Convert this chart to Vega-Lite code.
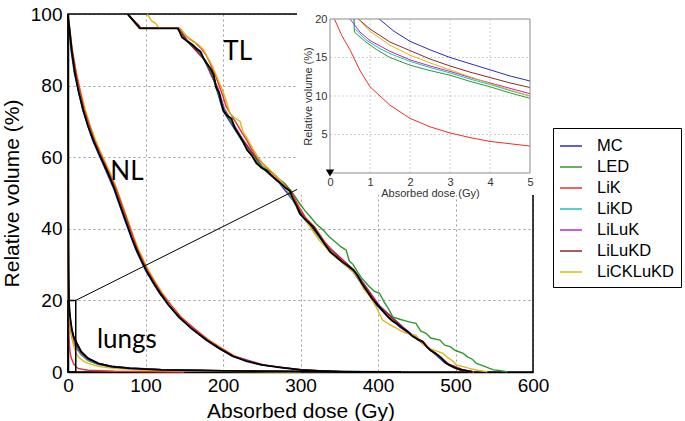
{
"$schema":"https://vega.github.io/schema/vega-lite/v6.json",
"width":465,"height":358,
"autosize":{"type":"none"},
"padding":{"left":68,"top":14,"right":152,"bottom":49},
"background":"white",
"config":{"view":{"stroke":null},"font":"Liberation Sans",
"axis":{"grid":true,"gridColor":"#9a9a9a","gridDash":[2,3],"gridWidth":1,"ticks":false,"domainColor":"black","domainWidth":1.5,"labelFontSize":19,"labelColor":"black","labelFlush":false,"titleFontSize":21,"titleFontWeight":"normal","titleColor":"black"}},
"datasets":{
"ann":[{"t":"TL","d":219,"v":89.4},{"t":"NL","d":76,"v":55.9},{"t":"lungs","d":76,"v":8.9}],
"dvh":[
{"o":"TL","s":"ref","d":77,"v":100},{"o":"TL","s":"ref","d":81,"v":99},{"o":"TL","s":"ref","d":85,"v":98},{"o":"TL","s":"ref","d":89,"v":97},{"o":"TL","s":"ref","d":93,"v":96},{"o":"TL","s":"ref","d":142,"v":96},{"o":"TL","s":"ref","d":147,"v":93.5},{"o":"TL","s":"ref","d":153,"v":92.5},{"o":"TL","s":"ref","d":160,"v":91.5},{"o":"TL","s":"ref","d":166,"v":90.3},{"o":"TL","s":"ref","d":171,"v":89.5},{"o":"TL","s":"ref","d":175,"v":87.5},{"o":"TL","s":"ref","d":179,"v":86.2},{"o":"TL","s":"ref","d":184,"v":84.8},{"o":"TL","s":"ref","d":188,"v":83},{"o":"TL","s":"ref","d":191,"v":79.5},{"o":"TL","s":"ref","d":195,"v":78},{"o":"TL","s":"ref","d":198,"v":75},{"o":"TL","s":"ref","d":201,"v":72.8},{"o":"TL","s":"ref","d":206,"v":71.5},{"o":"TL","s":"ref","d":211,"v":70.8},{"o":"TL","s":"ref","d":215,"v":68.2},{"o":"TL","s":"ref","d":219,"v":66.8},{"o":"TL","s":"ref","d":223,"v":65.4},{"o":"TL","s":"ref","d":227,"v":63.8},{"o":"TL","s":"ref","d":231,"v":62},{"o":"TL","s":"ref","d":237,"v":60.5},{"o":"TL","s":"ref","d":243,"v":58.3},{"o":"TL","s":"ref","d":250,"v":57},{"o":"TL","s":"ref","d":256,"v":56.3},{"o":"TL","s":"ref","d":262,"v":55},{"o":"TL","s":"ref","d":269,"v":53.6},{"o":"TL","s":"ref","d":276,"v":52.4},{"o":"TL","s":"ref","d":281,"v":51.4},{"o":"TL","s":"ref","d":286,"v":50.7},{"o":"TL","s":"ref","d":290,"v":48.5},{"o":"TL","s":"ref","d":295,"v":46.4},{"o":"TL","s":"ref","d":299,"v":44.3},{"o":"TL","s":"ref","d":306,"v":42.6},{"o":"TL","s":"ref","d":316,"v":40.6},{"o":"TL","s":"ref","d":323,"v":38.4},{"o":"TL","s":"ref","d":331,"v":35.8},{"o":"TL","s":"ref","d":338,"v":33.6},{"o":"TL","s":"ref","d":346,"v":32.2},{"o":"TL","s":"ref","d":353,"v":30.9},{"o":"TL","s":"ref","d":361,"v":29.7},{"o":"TL","s":"ref","d":368,"v":28.5},{"o":"TL","s":"ref","d":374,"v":26.8},{"o":"TL","s":"ref","d":379,"v":24.8},{"o":"TL","s":"ref","d":385,"v":22.9},{"o":"TL","s":"ref","d":392,"v":20.6},{"o":"TL","s":"ref","d":397,"v":19.4},{"o":"TL","s":"ref","d":402,"v":18.2},{"o":"TL","s":"ref","d":408,"v":16.6},{"o":"TL","s":"ref","d":413,"v":15.3},{"o":"TL","s":"ref","d":419,"v":14.2},{"o":"TL","s":"ref","d":425,"v":13.4},{"o":"TL","s":"ref","d":431,"v":12.4},{"o":"TL","s":"ref","d":438,"v":11.3},{"o":"TL","s":"ref","d":445,"v":9.9},{"o":"TL","s":"ref","d":452,"v":9.1},{"o":"TL","s":"ref","d":458,"v":8.4},{"o":"TL","s":"ref","d":463,"v":7},{"o":"TL","s":"ref","d":468,"v":6},{"o":"TL","s":"ref","d":475,"v":5.1},{"o":"TL","s":"ref","d":482,"v":3.9},{"o":"TL","s":"ref","d":488,"v":2.4},{"o":"TL","s":"ref","d":494,"v":1.7},{"o":"TL","s":"ref","d":501,"v":1},{"o":"TL","s":"ref","d":508,"v":0.6},{"o":"TL","s":"ref","d":515,"v":0.3},{"o":"TL","s":"ref","d":522,"v":0},
{"o":"TL","s":"MC","d":77,"v":100},{"o":"TL","s":"MC","d":92,"v":96},{"o":"TL","s":"MC","d":141,"v":96},{"o":"TL","s":"MC","d":152,"v":92.8},{"o":"TL","s":"MC","d":172,"v":89},{"o":"TL","s":"MC","d":189,"v":81},{"o":"TL","s":"MC","d":200,"v":73},{"o":"TL","s":"MC","d":222,"v":65.5},{"o":"TL","s":"MC","d":245,"v":58},{"o":"TL","s":"MC","d":272,"v":53},{"o":"TL","s":"MC","d":290,"v":48},{"o":"TL","s":"MC","d":312,"v":41},{"o":"TL","s":"MC","d":344,"v":32.4},{"o":"TL","s":"MC","d":368,"v":28},{"o":"TL","s":"MC","d":398,"v":18.6},{"o":"TL","s":"MC","d":428,"v":12.6},{"o":"TL","s":"MC","d":458,"v":8},{"o":"TL","s":"MC","d":486,"v":2.6},{"o":"TL","s":"MC","d":505,"v":0.6},{"o":"TL","s":"MC","d":519,"v":0},
{"o":"TL","s":"LiKD","d":77,"v":100},{"o":"TL","s":"LiKD","d":93,"v":96},{"o":"TL","s":"LiKD","d":142,"v":96},{"o":"TL","s":"LiKD","d":153,"v":92.6},{"o":"TL","s":"LiKD","d":176,"v":87.5},{"o":"TL","s":"LiKD","d":193,"v":79},{"o":"TL","s":"LiKD","d":201,"v":73.2},{"o":"TL","s":"LiKD","d":224,"v":65.2},{"o":"TL","s":"LiKD","d":250,"v":57.2},{"o":"TL","s":"LiKD","d":282,"v":51.2},{"o":"TL","s":"LiKD","d":300,"v":44},{"o":"TL","s":"LiKD","d":334,"v":35},{"o":"TL","s":"LiKD","d":368,"v":28.6},{"o":"TL","s":"LiKD","d":400,"v":18.6},{"o":"TL","s":"LiKD","d":432,"v":12.3},{"o":"TL","s":"LiKD","d":462,"v":7.3},{"o":"TL","s":"LiKD","d":490,"v":2.2},{"o":"TL","s":"LiKD","d":508,"v":0.6},{"o":"TL","s":"LiKD","d":523,"v":0},
{"o":"TL","s":"LiLuK","d":77,"v":100},{"o":"TL","s":"LiLuK","d":94,"v":96},{"o":"TL","s":"LiLuK","d":143,"v":96},{"o":"TL","s":"LiLuK","d":154,"v":92.6},{"o":"TL","s":"LiLuK","d":178,"v":86.8},{"o":"TL","s":"LiLuK","d":194,"v":79},{"o":"TL","s":"LiLuK","d":202,"v":73.4},{"o":"TL","s":"LiLuK","d":226,"v":64.8},{"o":"TL","s":"LiLuK","d":252,"v":57},{"o":"TL","s":"LiLuK","d":284,"v":51},{"o":"TL","s":"LiLuK","d":302,"v":44},{"o":"TL","s":"LiLuK","d":336,"v":35},{"o":"TL","s":"LiLuK","d":370,"v":28.2},{"o":"TL","s":"LiLuK","d":402,"v":18.5},{"o":"TL","s":"LiLuK","d":434,"v":12.2},{"o":"TL","s":"LiLuK","d":464,"v":7},{"o":"TL","s":"LiLuK","d":492,"v":2.1},{"o":"TL","s":"LiLuK","d":510,"v":0.6},{"o":"TL","s":"LiLuK","d":524,"v":0},
{"o":"TL","s":"LiLuKD","d":77,"v":100},{"o":"TL","s":"LiLuKD","d":93,"v":96},{"o":"TL","s":"LiLuKD","d":142,"v":96},{"o":"TL","s":"LiLuKD","d":153,"v":92.6},{"o":"TL","s":"LiLuKD","d":177,"v":87},{"o":"TL","s":"LiLuKD","d":193,"v":79.2},{"o":"TL","s":"LiLuKD","d":201,"v":73.2},{"o":"TL","s":"LiLuKD","d":225,"v":65},{"o":"TL","s":"LiLuKD","d":251,"v":57.1},{"o":"TL","s":"LiLuKD","d":283,"v":51.1},{"o":"TL","s":"LiLuKD","d":301,"v":44.1},{"o":"TL","s":"LiLuKD","d":335,"v":35.1},{"o":"TL","s":"LiLuKD","d":369,"v":28.4},{"o":"TL","s":"LiLuKD","d":401,"v":18.4},{"o":"TL","s":"LiLuKD","d":433,"v":12.2},{"o":"TL","s":"LiLuKD","d":463,"v":7.1},{"o":"TL","s":"LiLuKD","d":491,"v":2.2},{"o":"TL","s":"LiLuKD","d":509,"v":0.6},{"o":"TL","s":"LiLuKD","d":523,"v":0},
{"o":"TL","s":"LED","d":77,"v":100},{"o":"TL","s":"LED","d":93,"v":96},{"o":"TL","s":"LED","d":142,"v":96},{"o":"TL","s":"LED","d":149,"v":93.2},{"o":"TL","s":"LED","d":160,"v":91.6},{"o":"TL","s":"LED","d":170,"v":89.6},{"o":"TL","s":"LED","d":178,"v":86.5},{"o":"TL","s":"LED","d":187,"v":83.5},{"o":"TL","s":"LED","d":192,"v":79.2},{"o":"TL","s":"LED","d":199,"v":74.5},{"o":"TL","s":"LED","d":206,"v":71.5},{"o":"TL","s":"LED","d":214,"v":69},{"o":"TL","s":"LED","d":222,"v":65.5},{"o":"TL","s":"LED","d":232,"v":62},{"o":"TL","s":"LED","d":240,"v":60},{"o":"TL","s":"LED","d":248,"v":57.8},{"o":"TL","s":"LED","d":256,"v":56.6},{"o":"TL","s":"LED","d":264,"v":55.6},{"o":"TL","s":"LED","d":272,"v":54},{"o":"TL","s":"LED","d":280,"v":52.6},{"o":"TL","s":"LED","d":288,"v":50.6},{"o":"TL","s":"LED","d":293,"v":49},{"o":"TL","s":"LED","d":299,"v":47},{"o":"TL","s":"LED","d":306,"v":45},{"o":"TL","s":"LED","d":313,"v":43.3},{"o":"TL","s":"LED","d":320,"v":41.4},{"o":"TL","s":"LED","d":329,"v":39.7},{"o":"TL","s":"LED","d":337,"v":37.8},{"o":"TL","s":"LED","d":345,"v":36.3},{"o":"TL","s":"LED","d":352,"v":35},{"o":"TL","s":"LED","d":359,"v":34},{"o":"TL","s":"LED","d":363,"v":31},{"o":"TL","s":"LED","d":368,"v":30},{"o":"TL","s":"LED","d":372,"v":28.5},{"o":"TL","s":"LED","d":378,"v":26.5},{"o":"TL","s":"LED","d":384,"v":25},{"o":"TL","s":"LED","d":389,"v":23.8},{"o":"TL","s":"LED","d":395,"v":22.6},{"o":"TL","s":"LED","d":402,"v":22},{"o":"TL","s":"LED","d":408,"v":19.5},{"o":"TL","s":"LED","d":414,"v":17.5},{"o":"TL","s":"LED","d":419,"v":15.4},{"o":"TL","s":"LED","d":427,"v":14.8},{"o":"TL","s":"LED","d":440,"v":14},{"o":"TL","s":"LED","d":449,"v":13.6},{"o":"TL","s":"LED","d":455,"v":11.5},{"o":"TL","s":"LED","d":462,"v":10.8},{"o":"TL","s":"LED","d":468,"v":9.5},{"o":"TL","s":"LED","d":480,"v":8.9},{"o":"TL","s":"LED","d":486,"v":7.5},{"o":"TL","s":"LED","d":493,"v":7.1},{"o":"TL","s":"LED","d":500,"v":6},{"o":"TL","s":"LED","d":510,"v":5.2},{"o":"TL","s":"LED","d":515,"v":4.3},{"o":"TL","s":"LED","d":522,"v":3.5},{"o":"TL","s":"LED","d":527,"v":2.4},{"o":"TL","s":"LED","d":535,"v":1.8},{"o":"TL","s":"LED","d":544,"v":1},{"o":"TL","s":"LED","d":549,"v":0.6},{"o":"TL","s":"LED","d":556,"v":0.4},{"o":"TL","s":"LED","d":566,"v":0.1},{"o":"TL","s":"LED","d":567,"v":0},
{"o":"TL","s":"LiK","d":77,"v":100},{"o":"TL","s":"LiK","d":81,"v":99},{"o":"TL","s":"LiK","d":86,"v":98},{"o":"TL","s":"LiK","d":91,"v":97},{"o":"TL","s":"LiK","d":94,"v":96},{"o":"TL","s":"LiK","d":143,"v":96},{"o":"TL","s":"LiK","d":149,"v":94.5},{"o":"TL","s":"LiK","d":156,"v":93.2},{"o":"TL","s":"LiK","d":164,"v":92},{"o":"TL","s":"LiK","d":172,"v":90.4},{"o":"TL","s":"LiK","d":178,"v":88.6},{"o":"TL","s":"LiK","d":184,"v":86},{"o":"TL","s":"LiK","d":190,"v":83},{"o":"TL","s":"LiK","d":195,"v":80},{"o":"TL","s":"LiK","d":200,"v":77},{"o":"TL","s":"LiK","d":204,"v":74.2},{"o":"TL","s":"LiK","d":210,"v":72},{"o":"TL","s":"LiK","d":217,"v":69.6},{"o":"TL","s":"LiK","d":224,"v":67},{"o":"TL","s":"LiK","d":230,"v":65},{"o":"TL","s":"LiK","d":236,"v":62.6},{"o":"TL","s":"LiK","d":244,"v":60},{"o":"TL","s":"LiK","d":252,"v":58},{"o":"TL","s":"LiK","d":260,"v":56.3},{"o":"TL","s":"LiK","d":270,"v":54.2},{"o":"TL","s":"LiK","d":280,"v":52.2},{"o":"TL","s":"LiK","d":289,"v":50},{"o":"TL","s":"LiK","d":294,"v":47.8},{"o":"TL","s":"LiK","d":300,"v":45.4},{"o":"TL","s":"LiK","d":307,"v":43},{"o":"TL","s":"LiK","d":318,"v":40.6},{"o":"TL","s":"LiK","d":331,"v":36.4},{"o":"TL","s":"LiK","d":346,"v":32.6},{"o":"TL","s":"LiK","d":360,"v":30},{"o":"TL","s":"LiK","d":373,"v":27},{"o":"TL","s":"LiK","d":385,"v":23.2},{"o":"TL","s":"LiK","d":396,"v":19.8},{"o":"TL","s":"LiK","d":407,"v":17},{"o":"TL","s":"LiK","d":418,"v":14.5},{"o":"TL","s":"LiK","d":430,"v":12.8},{"o":"TL","s":"LiK","d":445,"v":10},{"o":"TL","s":"LiK","d":458,"v":8.6},{"o":"TL","s":"LiK","d":467,"v":6.3},{"o":"TL","s":"LiK","d":481,"v":4.1},{"o":"TL","s":"LiK","d":488,"v":2.6},{"o":"TL","s":"LiK","d":497,"v":1.3},{"o":"TL","s":"LiK","d":507,"v":0.7},{"o":"TL","s":"LiK","d":518,"v":0.2},{"o":"TL","s":"LiK","d":524,"v":0},
{"o":"TL","s":"LiCKLuKD","d":102,"v":100},{"o":"TL","s":"LiCKLuKD","d":105,"v":99},{"o":"TL","s":"LiCKLuKD","d":108,"v":98},{"o":"TL","s":"LiCKLuKD","d":113,"v":97.4},{"o":"TL","s":"LiCKLuKD","d":118,"v":96},{"o":"TL","s":"LiCKLuKD","d":145,"v":96},{"o":"TL","s":"LiCKLuKD","d":152,"v":94},{"o":"TL","s":"LiCKLuKD","d":160,"v":92.6},{"o":"TL","s":"LiCKLuKD","d":168,"v":91.5},{"o":"TL","s":"LiCKLuKD","d":175,"v":90},{"o":"TL","s":"LiCKLuKD","d":180,"v":88},{"o":"TL","s":"LiCKLuKD","d":186,"v":85.6},{"o":"TL","s":"LiCKLuKD","d":193,"v":82},{"o":"TL","s":"LiCKLuKD","d":199,"v":79},{"o":"TL","s":"LiCKLuKD","d":205,"v":75.2},{"o":"TL","s":"LiCKLuKD","d":209,"v":72.2},{"o":"TL","s":"LiCKLuKD","d":215,"v":71},{"o":"TL","s":"LiCKLuKD","d":222,"v":70},{"o":"TL","s":"LiCKLuKD","d":226,"v":67},{"o":"TL","s":"LiCKLuKD","d":232,"v":65},{"o":"TL","s":"LiCKLuKD","d":238,"v":62.5},{"o":"TL","s":"LiCKLuKD","d":245,"v":60},{"o":"TL","s":"LiCKLuKD","d":252,"v":58.2},{"o":"TL","s":"LiCKLuKD","d":258,"v":57},{"o":"TL","s":"LiCKLuKD","d":265,"v":55.5},{"o":"TL","s":"LiCKLuKD","d":272,"v":54},{"o":"TL","s":"LiCKLuKD","d":280,"v":52},{"o":"TL","s":"LiCKLuKD","d":287,"v":49.6},{"o":"TL","s":"LiCKLuKD","d":292,"v":47.5},{"o":"TL","s":"LiCKLuKD","d":297,"v":45},{"o":"TL","s":"LiCKLuKD","d":305,"v":42.8},{"o":"TL","s":"LiCKLuKD","d":314,"v":40},{"o":"TL","s":"LiCKLuKD","d":324,"v":36.9},{"o":"TL","s":"LiCKLuKD","d":332,"v":35},{"o":"TL","s":"LiCKLuKD","d":340,"v":33},{"o":"TL","s":"LiCKLuKD","d":350,"v":31.4},{"o":"TL","s":"LiCKLuKD","d":360,"v":29.5},{"o":"TL","s":"LiCKLuKD","d":368,"v":28},{"o":"TL","s":"LiCKLuKD","d":375,"v":26},{"o":"TL","s":"LiCKLuKD","d":382,"v":23},{"o":"TL","s":"LiCKLuKD","d":390,"v":21},{"o":"TL","s":"LiCKLuKD","d":398,"v":18},{"o":"TL","s":"LiCKLuKD","d":406,"v":14.5},{"o":"TL","s":"LiCKLuKD","d":415,"v":13.2},{"o":"TL","s":"LiCKLuKD","d":422,"v":12.5},{"o":"TL","s":"LiCKLuKD","d":428,"v":11.7},{"o":"TL","s":"LiCKLuKD","d":437,"v":10.8},{"o":"TL","s":"LiCKLuKD","d":449,"v":10.3},{"o":"TL","s":"LiCKLuKD","d":455,"v":8.5},{"o":"TL","s":"LiCKLuKD","d":462,"v":7.1},{"o":"TL","s":"LiCKLuKD","d":470,"v":6.3},{"o":"TL","s":"LiCKLuKD","d":484,"v":5.2},{"o":"TL","s":"LiCKLuKD","d":490,"v":4},{"o":"TL","s":"LiCKLuKD","d":497,"v":3},{"o":"TL","s":"LiCKLuKD","d":501,"v":2},{"o":"TL","s":"LiCKLuKD","d":510,"v":1.5},{"o":"TL","s":"LiCKLuKD","d":518,"v":1},{"o":"TL","s":"LiCKLuKD","d":528,"v":0.5},{"o":"TL","s":"LiCKLuKD","d":540,"v":0.1},{"o":"TL","s":"LiCKLuKD","d":541,"v":0},
{"o":"NL","s":"ref","d":0,"v":100},{"o":"NL","s":"ref","d":0.5,"v":98.5},{"o":"NL","s":"ref","d":1.7,"v":96.4},{"o":"NL","s":"ref","d":5,"v":89.5},{"o":"NL","s":"ref","d":9,"v":83.5},{"o":"NL","s":"ref","d":14,"v":78},{"o":"NL","s":"ref","d":19.7,"v":73.2},{"o":"NL","s":"ref","d":26,"v":68.6},{"o":"NL","s":"ref","d":32.6,"v":64.8},{"o":"NL","s":"ref","d":40,"v":61},{"o":"NL","s":"ref","d":46,"v":58.2},{"o":"NL","s":"ref","d":52,"v":55.4},{"o":"NL","s":"ref","d":60,"v":51.2},{"o":"NL","s":"ref","d":68,"v":46.2},{"o":"NL","s":"ref","d":76,"v":41.4},{"o":"NL","s":"ref","d":82,"v":37.6},{"o":"NL","s":"ref","d":88.6,"v":34.1},{"o":"NL","s":"ref","d":95,"v":31},{"o":"NL","s":"ref","d":101,"v":28.4},{"o":"NL","s":"ref","d":110,"v":25},{"o":"NL","s":"ref","d":119,"v":22},{"o":"NL","s":"ref","d":130,"v":18.6},{"o":"NL","s":"ref","d":144,"v":15.2},{"o":"NL","s":"ref","d":160,"v":12},{"o":"NL","s":"ref","d":179,"v":8.9},{"o":"NL","s":"ref","d":195,"v":6.6},{"o":"NL","s":"ref","d":213,"v":4.4},{"o":"NL","s":"ref","d":230,"v":3},{"o":"NL","s":"ref","d":250,"v":2},{"o":"NL","s":"ref","d":275,"v":1.2},{"o":"NL","s":"ref","d":301,"v":0.6},{"o":"NL","s":"ref","d":330,"v":0.25},{"o":"NL","s":"ref","d":350,"v":0.1},{"o":"NL","s":"ref","d":380,"v":0},
{"o":"NL","s":"LiCKLuKD","d":0,"v":100},{"o":"NL","s":"LiCKLuKD","d":0.6,"v":98.5},{"o":"NL","s":"LiCKLuKD","d":2,"v":96.4},{"o":"NL","s":"LiCKLuKD","d":6,"v":89.5},{"o":"NL","s":"LiCKLuKD","d":11,"v":83.5},{"o":"NL","s":"LiCKLuKD","d":16.5,"v":78},{"o":"NL","s":"LiCKLuKD","d":22.5,"v":73.2},{"o":"NL","s":"LiCKLuKD","d":29,"v":68.6},{"o":"NL","s":"LiCKLuKD","d":35.5,"v":64.8},{"o":"NL","s":"LiCKLuKD","d":43,"v":61},{"o":"NL","s":"LiCKLuKD","d":49,"v":58.2},{"o":"NL","s":"LiCKLuKD","d":55,"v":55.4},{"o":"NL","s":"LiCKLuKD","d":63,"v":51.2},{"o":"NL","s":"LiCKLuKD","d":71,"v":46.2},{"o":"NL","s":"LiCKLuKD","d":79,"v":41.4},{"o":"NL","s":"LiCKLuKD","d":85,"v":37.6},{"o":"NL","s":"LiCKLuKD","d":91.5,"v":34.1},{"o":"NL","s":"LiCKLuKD","d":98,"v":31},{"o":"NL","s":"LiCKLuKD","d":104,"v":28.4},{"o":"NL","s":"LiCKLuKD","d":113,"v":25},{"o":"NL","s":"LiCKLuKD","d":122,"v":22},{"o":"NL","s":"LiCKLuKD","d":133,"v":18.6},{"o":"NL","s":"LiCKLuKD","d":147,"v":15.2},{"o":"NL","s":"LiCKLuKD","d":163,"v":12},{"o":"NL","s":"LiCKLuKD","d":182,"v":8.9},{"o":"NL","s":"LiCKLuKD","d":198,"v":6.6},{"o":"NL","s":"LiCKLuKD","d":216,"v":4.4},{"o":"NL","s":"LiCKLuKD","d":233,"v":3},{"o":"NL","s":"LiCKLuKD","d":253,"v":2},{"o":"NL","s":"LiCKLuKD","d":278,"v":1.2},{"o":"NL","s":"LiCKLuKD","d":304,"v":0.6},{"o":"NL","s":"LiCKLuKD","d":333,"v":0.25},{"o":"NL","s":"LiCKLuKD","d":353,"v":0.1},{"o":"NL","s":"LiCKLuKD","d":383,"v":0},
{"o":"NL","s":"LiK","d":0,"v":100},{"o":"NL","s":"LiK","d":1,"v":97.5},{"o":"NL","s":"LiK","d":5,"v":90.5},{"o":"NL","s":"LiK","d":10.5,"v":83.5},{"o":"NL","s":"LiK","d":21,"v":73.2},{"o":"NL","s":"LiK","d":34,"v":64.8},{"o":"NL","s":"LiK","d":47.5,"v":58.2},{"o":"NL","s":"LiK","d":62,"v":51.2},{"o":"NL","s":"LiK","d":78,"v":41.4},{"o":"NL","s":"LiK","d":90,"v":34.1},{"o":"NL","s":"LiK","d":102.5,"v":28.4},{"o":"NL","s":"LiK","d":120.5,"v":22},{"o":"NL","s":"LiK","d":146,"v":15.2},{"o":"NL","s":"LiK","d":181,"v":8.9},{"o":"NL","s":"LiK","d":215,"v":4.4},{"o":"NL","s":"LiK","d":252,"v":2},{"o":"NL","s":"LiK","d":303,"v":0.6},{"o":"NL","s":"LiK","d":352,"v":0.1},{"o":"NL","s":"LiK","d":382,"v":0},
{"o":"NL","s":"MC","d":0,"v":100},{"o":"NL","s":"MC","d":1,"v":96},{"o":"NL","s":"MC","d":4.5,"v":89},{"o":"NL","s":"MC","d":8.2,"v":83.5},{"o":"NL","s":"MC","d":19,"v":73.2},{"o":"NL","s":"MC","d":31.6,"v":64.8},{"o":"NL","s":"MC","d":45,"v":58.2},{"o":"NL","s":"MC","d":59,"v":51.2},{"o":"NL","s":"MC","d":75,"v":41.4},{"o":"NL","s":"MC","d":87.6,"v":34.1},{"o":"NL","s":"MC","d":100,"v":28.4},{"o":"NL","s":"MC","d":118,"v":22},{"o":"NL","s":"MC","d":143,"v":15.2},{"o":"NL","s":"MC","d":178,"v":8.9},{"o":"NL","s":"MC","d":212,"v":4.4},{"o":"NL","s":"MC","d":249,"v":2},{"o":"NL","s":"MC","d":300,"v":0.6},{"o":"NL","s":"MC","d":349,"v":0.1},{"o":"NL","s":"MC","d":379,"v":0},
{"o":"Lu","s":"MC","d":0,"v":100},{"o":"Lu","s":"MC","d":0.1,"v":70},{"o":"Lu","s":"MC","d":0.3,"v":45},{"o":"Lu","s":"MC","d":0.6,"v":30},{"o":"Lu","s":"MC","d":0.9,"v":24},{"o":"Lu","s":"MC","d":1.23,"v":20},{"o":"Lu","s":"MC","d":1.6,"v":18.4},{"o":"Lu","s":"MC","d":2,"v":17.1},{"o":"Lu","s":"MC","d":2.5,"v":16},{"o":"Lu","s":"MC","d":3,"v":15},{"o":"Lu","s":"MC","d":3.5,"v":14.2},{"o":"Lu","s":"MC","d":4,"v":13.4},{"o":"Lu","s":"MC","d":4.5,"v":12.6},{"o":"Lu","s":"MC","d":5,"v":11.95},{"o":"Lu","s":"MC","d":7,"v":10},{"o":"Lu","s":"MC","d":11,"v":8.2},{"o":"Lu","s":"MC","d":17,"v":5.7},{"o":"Lu","s":"MC","d":26,"v":3.8},{"o":"Lu","s":"MC","d":39,"v":2.4},{"o":"Lu","s":"MC","d":56,"v":1.6},{"o":"Lu","s":"MC","d":80,"v":1.1},{"o":"Lu","s":"MC","d":120,"v":0.7},{"o":"Lu","s":"MC","d":200,"v":0.35},{"o":"Lu","s":"MC","d":300,"v":0.15},{"o":"Lu","s":"MC","d":430,"v":0},
{"o":"Lu","s":"LED","d":0,"v":100},{"o":"Lu","s":"LED","d":0.1,"v":65},{"o":"Lu","s":"LED","d":0.3,"v":40},{"o":"Lu","s":"LED","d":0.59,"v":24},{"o":"Lu","s":"LED","d":0.6,"v":20},{"o":"Lu","s":"LED","d":0.61,"v":18.3},{"o":"Lu","s":"LED","d":0.9,"v":17},{"o":"Lu","s":"LED","d":1.17,"v":16},{"o":"Lu","s":"LED","d":1.5,"v":15},{"o":"Lu","s":"LED","d":2,"v":14},{"o":"Lu","s":"LED","d":2.5,"v":13.3},{"o":"Lu","s":"LED","d":3,"v":12.7},{"o":"Lu","s":"LED","d":3.5,"v":11.9},{"o":"Lu","s":"LED","d":4,"v":11.2},{"o":"Lu","s":"LED","d":4.5,"v":10.4},{"o":"Lu","s":"LED","d":5,"v":9.7},{"o":"Lu","s":"LED","d":7,"v":8.2},{"o":"Lu","s":"LED","d":11,"v":6.5},{"o":"Lu","s":"LED","d":17,"v":4.8},{"o":"Lu","s":"LED","d":26,"v":3.2},{"o":"Lu","s":"LED","d":39,"v":2.1},{"o":"Lu","s":"LED","d":56,"v":1.4},{"o":"Lu","s":"LED","d":80,"v":0.9},{"o":"Lu","s":"LED","d":120,"v":0.55},{"o":"Lu","s":"LED","d":200,"v":0.3},{"o":"Lu","s":"LED","d":300,"v":0.12},{"o":"Lu","s":"LED","d":420,"v":0},
{"o":"Lu","s":"LiK","d":0,"v":100},{"o":"Lu","s":"LiK","d":0.02,"v":60},{"o":"Lu","s":"LiK","d":0.05,"v":35},{"o":"Lu","s":"LiK","d":0.11,"v":20},{"o":"Lu","s":"LiK","d":0.3,"v":17.8},{"o":"Lu","s":"LiK","d":0.5,"v":16},{"o":"Lu","s":"LiK","d":0.75,"v":13.3},{"o":"Lu","s":"LiK","d":1,"v":11.2},{"o":"Lu","s":"LiK","d":1.5,"v":8.8},{"o":"Lu","s":"LiK","d":2,"v":7.1},{"o":"Lu","s":"LiK","d":2.5,"v":6},{"o":"Lu","s":"LiK","d":3,"v":5.2},{"o":"Lu","s":"LiK","d":3.5,"v":4.6},{"o":"Lu","s":"LiK","d":4,"v":4.1},{"o":"Lu","s":"LiK","d":4.5,"v":3.8},{"o":"Lu","s":"LiK","d":5,"v":3.5},{"o":"Lu","s":"LiK","d":7,"v":2.4},{"o":"Lu","s":"LiK","d":10,"v":1.5},{"o":"Lu","s":"LiK","d":13,"v":1},{"o":"Lu","s":"LiK","d":20,"v":0.7},{"o":"Lu","s":"LiK","d":26,"v":0.5},{"o":"Lu","s":"LiK","d":60,"v":0.2},{"o":"Lu","s":"LiK","d":150,"v":0},
{"o":"Lu","s":"LiKD","d":0,"v":100},{"o":"Lu","s":"LiKD","d":0.1,"v":66},{"o":"Lu","s":"LiKD","d":0.3,"v":41},{"o":"Lu","s":"LiKD","d":0.59,"v":25},{"o":"Lu","s":"LiKD","d":0.6,"v":20},{"o":"Lu","s":"LiKD","d":0.61,"v":18.8},{"o":"Lu","s":"LiKD","d":0.9,"v":17.3},{"o":"Lu","s":"LiKD","d":1.2,"v":16.3},{"o":"Lu","s":"LiKD","d":1.5,"v":15.5},{"o":"Lu","s":"LiKD","d":2,"v":14.5},{"o":"Lu","s":"LiKD","d":2.5,"v":13.7},{"o":"Lu","s":"LiKD","d":3,"v":13},{"o":"Lu","s":"LiKD","d":3.5,"v":12.2},{"o":"Lu","s":"LiKD","d":4,"v":11.5},{"o":"Lu","s":"LiKD","d":4.5,"v":10.7},{"o":"Lu","s":"LiKD","d":5,"v":10},{"o":"Lu","s":"LiKD","d":7,"v":8.5},{"o":"Lu","s":"LiKD","d":11,"v":6.7},{"o":"Lu","s":"LiKD","d":17,"v":5},{"o":"Lu","s":"LiKD","d":26,"v":3.4},{"o":"Lu","s":"LiKD","d":39,"v":2.3},{"o":"Lu","s":"LiKD","d":56,"v":1.5},{"o":"Lu","s":"LiKD","d":80,"v":1},{"o":"Lu","s":"LiKD","d":120,"v":0.6},{"o":"Lu","s":"LiKD","d":200,"v":0.32},{"o":"Lu","s":"LiKD","d":300,"v":0.15},{"o":"Lu","s":"LiKD","d":400,"v":0.05},{"o":"Lu","s":"LiKD","d":430,"v":0},
{"o":"Lu","s":"LiLuK","d":0,"v":100},{"o":"Lu","s":"LiLuK","d":0.1,"v":62},{"o":"Lu","s":"LiLuK","d":0.3,"v":35},{"o":"Lu","s":"LiLuK","d":0.5,"v":20},{"o":"Lu","s":"LiLuK","d":0.75,"v":18.3},{"o":"Lu","s":"LiLuK","d":1,"v":17.2},{"o":"Lu","s":"LiLuK","d":1.5,"v":15.8},{"o":"Lu","s":"LiLuK","d":2,"v":14.7},{"o":"Lu","s":"LiLuK","d":2.5,"v":13.9},{"o":"Lu","s":"LiLuK","d":3,"v":13.2},{"o":"Lu","s":"LiLuK","d":3.5,"v":12.4},{"o":"Lu","s":"LiLuK","d":4,"v":11.7},{"o":"Lu","s":"LiLuK","d":4.5,"v":11},{"o":"Lu","s":"LiLuK","d":5,"v":10.3},{"o":"Lu","s":"LiLuK","d":7,"v":8.8},{"o":"Lu","s":"LiLuK","d":11,"v":7},{"o":"Lu","s":"LiLuK","d":17,"v":5.2},{"o":"Lu","s":"LiLuK","d":26,"v":3.5},{"o":"Lu","s":"LiLuK","d":39,"v":2.3},{"o":"Lu","s":"LiLuK","d":56,"v":1.5},{"o":"Lu","s":"LiLuK","d":80,"v":1},{"o":"Lu","s":"LiLuK","d":120,"v":0.6},{"o":"Lu","s":"LiLuK","d":200,"v":0.3},{"o":"Lu","s":"LiLuK","d":300,"v":0.12},{"o":"Lu","s":"LiLuK","d":420,"v":0},
{"o":"Lu","s":"LiLuKD","d":0,"v":100},{"o":"Lu","s":"LiLuKD","d":0.1,"v":68},{"o":"Lu","s":"LiLuKD","d":0.3,"v":43},{"o":"Lu","s":"LiLuKD","d":0.5,"v":28},{"o":"Lu","s":"LiLuKD","d":0.71,"v":20},{"o":"Lu","s":"LiLuKD","d":1,"v":18.7},{"o":"Lu","s":"LiLuKD","d":1.5,"v":17},{"o":"Lu","s":"LiLuKD","d":2,"v":15.9},{"o":"Lu","s":"LiLuKD","d":2.5,"v":14.8},{"o":"Lu","s":"LiLuKD","d":3,"v":13.9},{"o":"Lu","s":"LiLuKD","d":3.5,"v":13.1},{"o":"Lu","s":"LiLuKD","d":4,"v":12.4},{"o":"Lu","s":"LiLuKD","d":4.5,"v":11.7},{"o":"Lu","s":"LiLuKD","d":5,"v":11.1},{"o":"Lu","s":"LiLuKD","d":7,"v":9.5},{"o":"Lu","s":"LiLuKD","d":11,"v":7.6},{"o":"Lu","s":"LiLuKD","d":17,"v":5.5},{"o":"Lu","s":"LiLuKD","d":26,"v":3.7},{"o":"Lu","s":"LiLuKD","d":39,"v":2.4},{"o":"Lu","s":"LiLuKD","d":56,"v":1.6},{"o":"Lu","s":"LiLuKD","d":80,"v":1.05},{"o":"Lu","s":"LiLuKD","d":120,"v":0.65},{"o":"Lu","s":"LiLuKD","d":200,"v":0.33},{"o":"Lu","s":"LiLuKD","d":300,"v":0.13},{"o":"Lu","s":"LiLuKD","d":420,"v":0},
{"o":"Lu","s":"LiCKLuKD","d":0,"v":100},{"o":"Lu","s":"LiCKLuKD","d":0.1,"v":66},{"o":"Lu","s":"LiCKLuKD","d":0.3,"v":42},{"o":"Lu","s":"LiCKLuKD","d":0.5,"v":27},{"o":"Lu","s":"LiCKLuKD","d":0.71,"v":20},{"o":"Lu","s":"LiCKLuKD","d":1,"v":18.4},{"o":"Lu","s":"LiCKLuKD","d":1.5,"v":16.6},{"o":"Lu","s":"LiCKLuKD","d":2,"v":15.3},{"o":"Lu","s":"LiCKLuKD","d":2.5,"v":14.3},{"o":"Lu","s":"LiCKLuKD","d":3,"v":13.4},{"o":"Lu","s":"LiCKLuKD","d":3.5,"v":12.5},{"o":"Lu","s":"LiCKLuKD","d":4,"v":11.6},{"o":"Lu","s":"LiCKLuKD","d":4.5,"v":10.8},{"o":"Lu","s":"LiCKLuKD","d":5,"v":10},{"o":"Lu","s":"LiCKLuKD","d":7,"v":7.5},{"o":"Lu","s":"LiCKLuKD","d":10,"v":5.5},{"o":"Lu","s":"LiCKLuKD","d":13,"v":4.3},{"o":"Lu","s":"LiCKLuKD","d":20,"v":3},{"o":"Lu","s":"LiCKLuKD","d":26,"v":2.4},{"o":"Lu","s":"LiCKLuKD","d":40,"v":1.5},{"o":"Lu","s":"LiCKLuKD","d":60,"v":1},{"o":"Lu","s":"LiCKLuKD","d":100,"v":0.5},{"o":"Lu","s":"LiCKLuKD","d":150,"v":0.3},{"o":"Lu","s":"LiCKLuKD","d":300,"v":0},
{"o":"Lu","s":"ref","d":0,"v":100},{"o":"Lu","s":"ref","d":0.1,"v":68},{"o":"Lu","s":"ref","d":0.3,"v":44},{"o":"Lu","s":"ref","d":0.6,"v":29},{"o":"Lu","s":"ref","d":1.2,"v":20.5},{"o":"Lu","s":"ref","d":2,"v":17},{"o":"Lu","s":"ref","d":3,"v":14.8},{"o":"Lu","s":"ref","d":5,"v":11.8},{"o":"Lu","s":"ref","d":7,"v":10},{"o":"Lu","s":"ref","d":11,"v":8.2},{"o":"Lu","s":"ref","d":17,"v":5.7},{"o":"Lu","s":"ref","d":26,"v":3.8},{"o":"Lu","s":"ref","d":39,"v":2.4},{"o":"Lu","s":"ref","d":56,"v":1.5},{"o":"Lu","s":"ref","d":80,"v":1},{"o":"Lu","s":"ref","d":120,"v":0.6},{"o":"Lu","s":"ref","d":200,"v":0.3},{"o":"Lu","s":"ref","d":300,"v":0.12},{"o":"Lu","s":"ref","d":430,"v":0}
]},
"layer":[
{"layer":[
 {"data":{"values":[{}]},"mark":{"type":"rect","filled":false,"stroke":"black","strokeWidth":1.5},
  "encoding":{"x":{"datum":0,"type":"quantitative"},"x2":{"datum":600},"y":{"datum":0,"type":"quantitative"},"y2":{"datum":100}}},
 {"data":{"name":"dvh"},"transform":[{"filter":"datum.s != 'ref'"}],
  "mark":{"type":"line","strokeWidth":1.4},
  "encoding":{
   "x":{"field":"d","type":"quantitative","scale":{"domain":[0,600]},"axis":{"title":"Absorbed dose (Gy)","values":[0,100,200,300,400,500,600],"labelPadding":4,"titlePadding":5}},
   "y":{"field":"v","type":"quantitative","scale":{"domain":[0,100]},"axis":{"title":"Relative volume (%)","values":[0,20,40,60,80,100],"labelPadding":6,"titlePadding":8}},
   "color":{"field":"s","type":"nominal","scale":{"domain":["MC","LED","LiK","LiKD","LiLuK","LiLuKD","LiCKLuKD"],"range":["#2c2cb8","#2e9a2e","#e8302c","#1fbfbf","#b42cc0","#8c2a2a","#dcb818"]},
     "legend":{"orient":"none","legendX":485,"legendY":114,"title":null,"strokeColor":"black","fillColor":"white","padding":6,"symbolType":"stroke","symbolSize":484,"symbolStrokeWidth":1.5,"labelFontSize":16.5,"labelColor":"black","labelOffset":14,"rowPadding":0}},
   "detail":{"field":"o"}}},
 {"data":{"name":"dvh"},"transform":[{"filter":"datum.s == 'ref'"}],
  "mark":{"type":"line","strokeWidth":1.8,"color":"black"},
  "encoding":{"x":{"field":"d","type":"quantitative"},"y":{"field":"v","type":"quantitative"},"detail":{"field":"o"}}},
 {"data":{"values":[{}]},"mark":{"type":"rect","filled":false,"stroke":"black","strokeWidth":1.5},
  "encoding":{"x":{"datum":0,"type":"quantitative"},"x2":{"datum":10},"y":{"datum":0,"type":"quantitative"},"y2":{"datum":20}}},
 {"data":{"values":[{}]},"mark":{"type":"rule","stroke":"black","strokeWidth":1},
  "encoding":{"x":{"datum":10,"type":"quantitative"},"y":{"datum":20,"type":"quantitative"},"x2":{"datum":338},"y2":{"datum":55.6}}},
 {"data":{"name":"ann"},"mark":{"type":"text","font":"Lato","fontSize":26,"color":"black","align":"center","baseline":"middle"},
  "encoding":{"x":{"field":"d","type":"quantitative"},"y":{"field":"v","type":"quantitative"},"text":{"field":"t"}}}
]},
{"layer":[
 {"data":{"values":[{}]},"mark":{"type":"rect","fill":"white","stroke":null},
  "encoding":{"x":{"datum":-0.825,"type":"quantitative","scale":{"domain":[0,5],"range":[262,462]}},"x2":{"datum":5.375},"y":{"datum":-2.86,"type":"quantitative","scale":{"domain":[0,20],"range":[159,5]}},"y2":{"datum":22.47}}},
 {"data":{"values":[{"g":1},{"g":2},{"g":3},{"g":4}]},"mark":{"type":"rule","stroke":"#c4c4c4","strokeDash":[2,2],"strokeWidth":0.8},
  "encoding":{"x":{"field":"g","type":"quantitative","scale":{"domain":[0,5],"range":[262,462]}},"y":{"datum":0,"type":"quantitative","scale":{"domain":[0,20],"range":[159,5]}},"y2":{"datum":20}}},
 {"data":{"values":[{"g":5},{"g":10},{"g":15}]},"mark":{"type":"rule","stroke":"#c4c4c4","strokeDash":[2,2],"strokeWidth":0.8},
  "encoding":{"y":{"field":"g","type":"quantitative","scale":{"domain":[0,20],"range":[159,5]}},"x":{"datum":0,"type":"quantitative","scale":{"domain":[0,5],"range":[262,462]}},"x2":{"datum":5}}},
 {"data":{"name":"dvh"},"transform":[{"filter":"datum.o == 'Lu' && datum.s != 'ref' && datum.d <= 5 && datum.v <= 20"}],
  "mark":{"type":"line","strokeWidth":1},
  "encoding":{
   "x":{"field":"d","type":"quantitative","scale":{"domain":[0,5],"range":[262,462]},"axis":{"orient":"bottom","offset":-199,"values":[0,1,2,3,4,5],"format":"d","grid":false,"domain":false,"labelFontSize":11,"labelColor":"#333","labelPadding":3,"title":"Absorbed dose (Gy)","titleFontSize":11,"titleColor":"#333","titlePadding":0,"zindex":1}},
   "y":{"field":"v","type":"quantitative","scale":{"domain":[0,20],"range":[159,5]},"axis":{"orient":"left","offset":-262,"values":[5,10,15,20],"format":"d","grid":false,"domain":false,"labelFontSize":11,"labelColor":"#333","labelPadding":3,"title":"Relative volume (%)","titleFontSize":11,"titleColor":"#333","titlePadding":1,"zindex":1}},
   "color":{"field":"s","type":"nominal"}}},
 {"data":{"values":[{}]},"mark":{"type":"rect","filled":false,"stroke":"#8a8a8a","strokeWidth":1},
  "encoding":{"x":{"datum":0,"type":"quantitative","scale":{"domain":[0,5],"range":[262,462]}},"x2":{"datum":5},"y":{"datum":0,"type":"quantitative","scale":{"domain":[0,20],"range":[159,5]}},"y2":{"datum":20}}},
 {"data":{"values":[{}]},"mark":{"type":"point","shape":"triangle-down","filled":true,"color":"black","size":70,"opacity":1},
  "encoding":{"x":{"datum":0,"type":"quantitative","scale":{"domain":[0,5],"range":[262,462]}},"y":{"datum":0,"type":"quantitative","scale":{"domain":[0,20],"range":[159,5]}}}}
]}
],
"resolve":{"scale":{"x":"independent","y":"independent"}}
}
